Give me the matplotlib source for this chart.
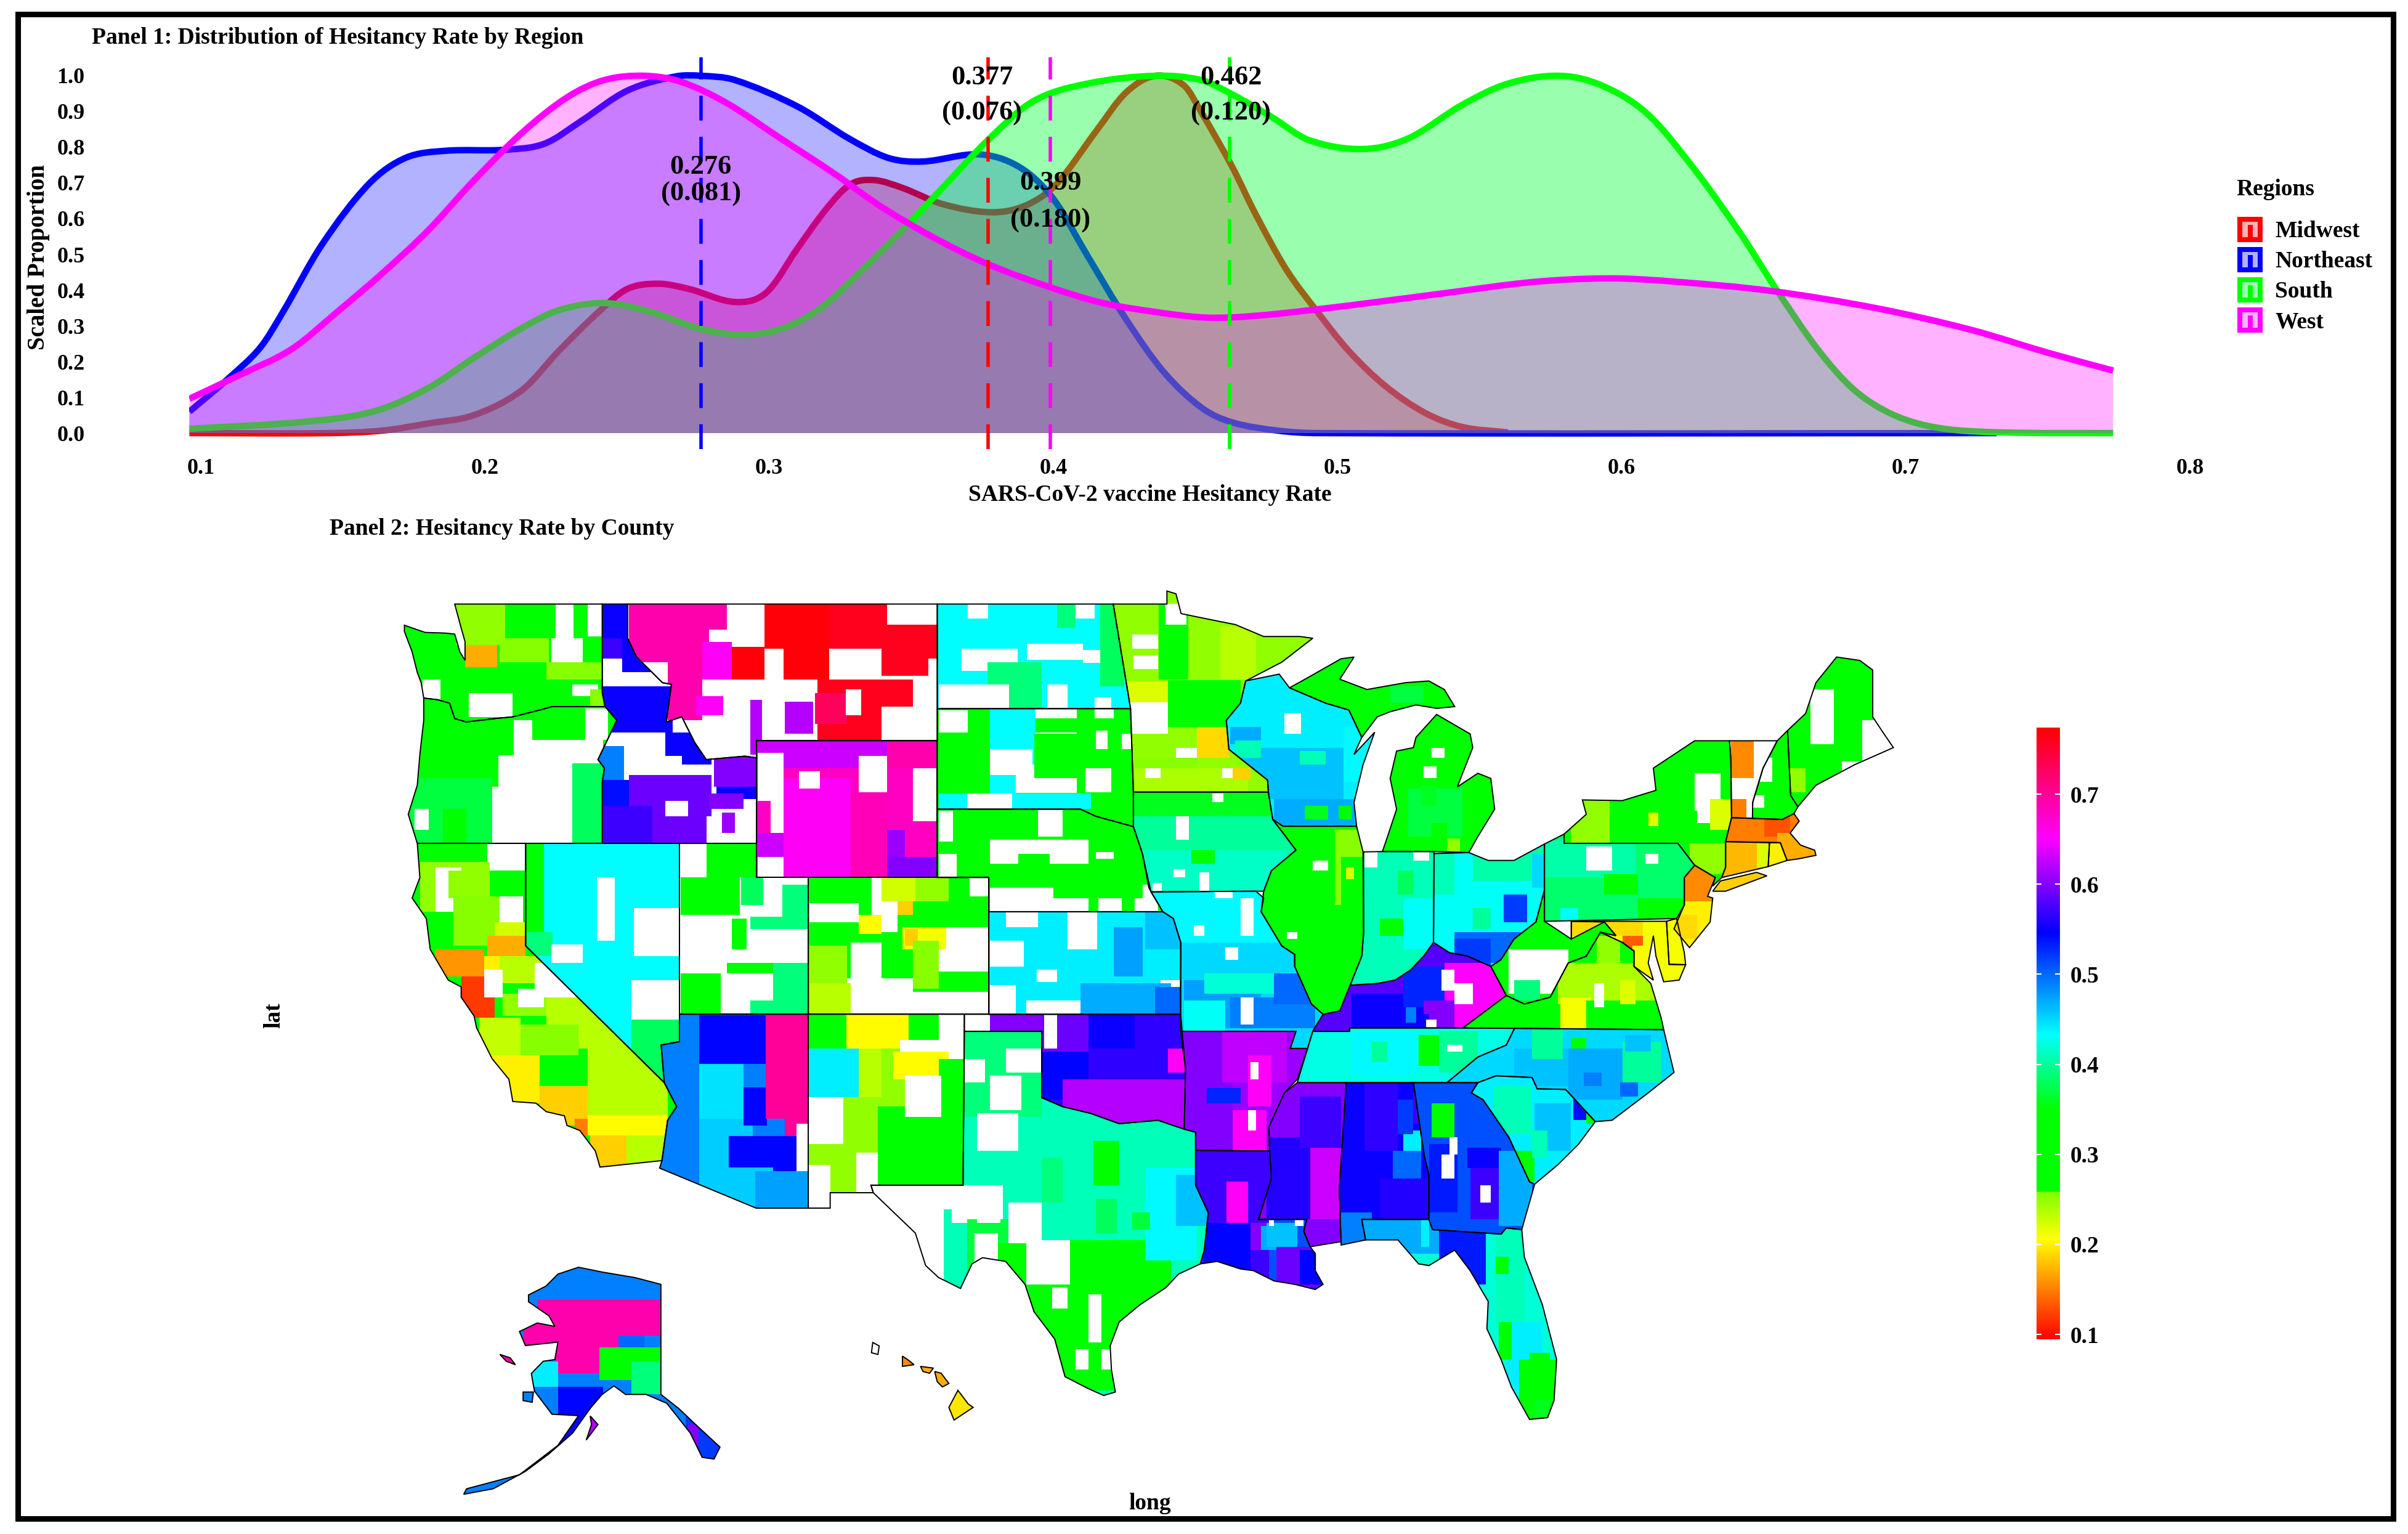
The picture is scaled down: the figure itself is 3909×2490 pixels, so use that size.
import matplotlib
matplotlib.use("Agg")
import matplotlib.pyplot as plt
from matplotlib.colors import LinearSegmentedColormap, Normalize, to_rgba
from matplotlib.cm import ScalarMappable
from matplotlib.patches import Polygon, Rectangle, PathPatch
from matplotlib.path import Path
from matplotlib.lines import Line2D
from matplotlib.legend_handler import HandlerBase

W, H = 3909, 2490
plt.rcParams['font.family'] = ['Liberation Serif', 'DejaVu Serif']
plt.rcParams['font.weight'] = 'bold'
plt.rcParams['lines.scale_dashes'] = False

# ---------- Panel 1 data ----------
REGIONS = ['Midwest', 'Northeast', 'South', 'West']
COLORS = ['#FF0000', '#0000FF', '#00FF00', '#FF00FF']
FILLS = [to_rgba('#FF0000', .3), to_rgba('#0000FF', .3), to_rgba('#00FF37', .4), to_rgba('#FF00FF', .3)]
MEANS = [0.377, 0.276, 0.462, 0.399]
SDS = [0.076, 0.081, 0.120, 0.180]
LABEL_X = [0.375, 0.276, 0.4625, 0.399]
MEAN_Y = [0.995, 0.745, 0.995, 0.70]
SD_Y = [0.895, 0.67, 0.895, 0.595]

MW_X = [.096,.145,.164,.18,.196,.213,.226,.24,.25,.261,.272,.288,.299,.31,.32,.3286,.337,.347,.361,.378,.39,.401,.415,.4256,.436,.446,.4524,.463,.471,.482,.493,.504,.517,.531,.544,.56]
MW_Y = [0,0,.007,.027,.05,.12,.23,.339,.403,.418,.403,.367,.393,.517,.626,.696,.708,.686,.641,.618,.636,.696,.844,.953,1.0,.973,.894,.745,.616,.458,.339,.23,.131,.056,.017,.002]
NE_X = [.096,.11,.121,.129,.1426,.159,.172,.186,.207,.221,.234,.25,.267,.276,.288,.31,.328,.342,.354,.374,.388,.40,.412,.4256,.439,.4524,.463,.479,.493,.732]
NE_Y = [.06,.155,.24,.34,.527,.696,.77,.79,.793,.81,.874,.958,.998,1.0,.988,.914,.825,.77,.76,.78,.745,.656,.497,.319,.17,.07,.03,.007,0,0]
SO_X = [.096,.137,.161,.18,.196,.213,.226,.242,.2585,.275,.291,.305,.318,.331,.348,.361,.377,.393,.412,.436,.452,.463,.477,.49,.509,.525,.544,.56,.578,.593,.609,.625,.642,.654,.669,.682,.696,.712,.734,.773]
SO_Y = [.012,.032,.061,.126,.21,.294,.344,.364,.339,.294,.275,.294,.349,.443,.577,.686,.82,.929,.978,1.0,.988,.948,.884,.82,.795,.825,.919,.978,1.0,.973,.894,.745,.557,.408,.235,.12,.05,.014,.002,0]
WE_X = [.096,.113,.132,.148,.164,.18,.196,.213,.229,.242,.256,.269,.285,.304,.323,.339,.358,.377,.399,.4175,.436,.452,.463,.479,.506,.539,.569,.596,.62,.6525,.69,.723,.75,.773]
WE_Y = [.096,.16,.235,.339,.448,.567,.706,.84,.94,.988,1.0,.983,.924,.825,.726,.636,.547,.473,.408,.364,.339,.324,.324,.334,.359,.393,.423,.433,.423,.398,.349,.289,.225,.175]
CURVES_X = [MW_X, NE_X, SO_X, WE_X]
CURVES_Y = [MW_Y, NE_Y, SO_Y, WE_Y]
X_TICKS = [.1, .2, .3, .4, .5, .6, .7, .8]
Y_TICKS = [0, .1, .2, .3, .4, .5, .6, .7, .8, .9, 1.0]

# ---------- Panel 2 data: outlines in long/lat ----------
OUTLINES = {
'WA': [(-122.75,49),(-117.03,49),(-117.03,46.4),(-116.92,46),(-118.98,46),(-119.3,45.93),(-120.5,45.7),(-121.2,45.65),(-122.3,45.55),(-122.75,45.65),(-122.95,46.1),(-123.4,46.2),(-123.95,46.25),(-124.05,46.7),(-124.2,47),(-124.4,47.6),(-124.7,48.2),(-124.7,48.38),(-123.9,48.17),(-123.1,48.15),(-122.75,48.12),(-122.55,47.6),(-122.35,47.35),(-122.35,47.9),(-122.5,48.3)],
'OR': [(-124.2,42),(-117.03,42),(-117.03,43.8),(-116.95,44.2),(-117.2,44.45),(-116.85,45),(-116.47,45.6),(-116.92,46),(-118.98,46),(-119.3,45.93),(-120.5,45.7),(-121.2,45.65),(-122.3,45.55),(-122.75,45.65),(-122.95,46.1),(-123.4,46.2),(-123.95,46.25),(-123.95,45.6),(-124.1,44.6),(-124.2,43.7),(-124.55,42.85)],
'CA': [(-124.2,42),(-120,42),(-120,39),(-114.63,35),(-114.15,34.3),(-114.5,33.9),(-114.72,32.72),(-117.12,32.53),(-117.3,33),(-117.9,33.6),(-118.4,33.75),(-118.5,34.03),(-119.2,34.15),(-119.6,34.4),(-120.5,34.45),(-120.65,35.1),(-121.3,35.7),(-121.9,36.6),(-122,36.95),(-122.5,37.5),(-122.5,37.8),(-123,38),(-123.7,38.9),(-123.85,39.8),(-124.4,40.4),(-124.1,41)],
'NV': [(-120,42),(-114.04,42),(-114.04,36.2),(-114.75,36.1),(-114.63,35),(-120,39)],
'ID': [(-117.03,49),(-116.05,49),(-116.05,48),(-115.7,47.45),(-114.7,46.7),(-114.35,46.65),(-114.55,45.55),(-113.95,45.7),(-113.45,44.95),(-113,44.45),(-111.5,44.55),(-111.05,44.5),(-111.05,42),(-117.03,42),(-117.03,43.8),(-116.95,44.2),(-117.2,44.45),(-116.85,45),(-116.47,45.6),(-116.92,46),(-117.03,46.4)],
'MT': [(-116.05,49),(-104.05,49),(-104.05,45),(-111.05,45),(-111.05,44.5),(-111.5,44.55),(-113,44.45),(-113.45,44.95),(-113.95,45.7),(-114.55,45.55),(-114.35,46.65),(-114.7,46.7),(-115.7,47.45),(-116.05,48)],
'WY': [(-111.05,45),(-104.05,45),(-104.05,41),(-111.05,41)],
'UT': [(-114.04,42),(-111.05,42),(-111.05,41),(-109.05,41),(-109.05,37),(-114.04,37)],
'CO': [(-109.05,41),(-102.05,41),(-102.05,37),(-109.05,37)],
'AZ': [(-114.04,37),(-109.05,37),(-109.05,31.33),(-111.07,31.33),(-114.81,32.5),(-114.72,32.72),(-114.5,33.9),(-114.15,34.3),(-114.63,35),(-114.75,36.1),(-114.04,36.2)],
'NM': [(-109.05,37),(-103,37),(-103.05,32),(-106.62,32),(-106.53,31.78),(-108.2,31.78),(-108.2,31.33),(-109.05,31.33)],
'ND': [(-104.05,49),(-97.23,49),(-96.56,45.94),(-104.05,45.94)],
'SD': [(-104.05,45.94),(-96.56,45.94),(-96.45,43.5),(-96.45,42.49),(-97.9,42.79),(-98.5,43),(-104.05,43)],
'NE': [(-104.05,43),(-98.5,43),(-97.9,42.79),(-96.45,42.49),(-96.1,41.7),(-95.85,40.7),(-95.31,40),(-102.05,40),(-102.05,41),(-104.05,41)],
'KS': [(-102.05,40),(-95.31,40),(-94.9,39.8),(-94.61,39.1),(-94.62,37),(-102.05,37)],
'OK': [(-103,37),(-94.62,37),(-94.43,35.4),(-94.48,33.64),(-95.5,33.9),(-97,33.8),(-98.1,34.1),(-99.2,34.3),(-100,34.56),(-100,36.5),(-103,36.5)],
'TX': [(-103,36.5),(-100,36.5),(-100,34.56),(-99.2,34.3),(-98.1,34.1),(-97,33.8),(-95.5,33.9),(-94.48,33.64),(-94.04,33.55),(-94.04,32),(-93.55,31.2),(-93.7,30.1),(-93.85,29.7),(-94.7,29.4),(-95.2,29),(-96.2,28.5),(-97,28),(-97.35,27.3),(-97.3,26.6),(-97.15,25.95),(-97.6,25.85),(-98.2,26.05),(-99.1,26.4),(-99.5,27.5),(-100.3,28.3),(-100.65,29.1),(-101.4,29.77),(-102.3,29.88),(-102.7,29.7),(-103.15,28.98),(-104,29.3),(-104.5,29.65),(-104.9,30.6),(-106.53,31.78),(-106.62,32),(-103.05,32)],
'MN': [(-97.23,49),(-95.15,49),(-95.15,49.38),(-94.8,49.3),(-94.6,48.72),(-93.5,48.55),(-92.5,48.4),(-91.4,48.05),(-90,48.05),(-89.5,48),(-90.7,47.3),(-92.1,46.75),(-92.3,46.1),(-92.85,45.6),(-92.75,44.75),(-91.25,43.85),(-91.22,43.5),(-96.45,43.5),(-96.56,45.94)],
'IA': [(-96.45,43.5),(-91.22,43.5),(-91.05,42.7),(-90.15,41.8),(-91.1,41.2),(-91.4,40.6),(-91.7,40.6),(-95.77,40.58),(-96.1,41.7),(-96.45,42.49)],
'MO': [(-95.77,40.58),(-91.7,40.6),(-91.4,40.4),(-91.5,40),(-90.7,39),(-90.2,38.75),(-90.2,38.4),(-89.55,37.3),(-89.1,37),(-89.5,36.5),(-89.7,36),(-90.37,36),(-90.15,36.5),(-94.62,36.5),(-94.62,39.1),(-94.9,39.8),(-95.31,40)],
'AR': [(-94.62,36.5),(-90.15,36.5),(-90.37,36),(-89.7,36),(-90.1,35.1),(-90.6,34.7),(-91.2,33.7),(-91.17,33),(-94.04,33.02),(-94.04,33.55),(-94.48,33.64),(-94.43,35.4)],
'LA': [(-94.04,33.02),(-91.17,33),(-91.1,32.2),(-91.6,31),(-89.73,31),(-89.85,30.65),(-89.6,30.2),(-89.4,30),(-89.4,29.5),(-89.1,29.1),(-89.4,28.95),(-90.2,29.1),(-91,29.2),(-91.8,29.5),(-92.3,29.55),(-93.2,29.77),(-93.85,29.7),(-93.7,30.1),(-93.55,31.2),(-94.04,32)],
'WI': [(-92.3,46.1),(-92.1,46.75),(-90.8,46.95),(-90.4,46.55),(-89,46.1),(-88.1,45.9),(-87.6,45.1),(-87.9,44.6),(-87.1,45.25),(-87.55,44.3),(-87.9,43.2),(-87.8,42.5),(-90.65,42.5),(-91.05,42.7),(-91.22,43.5),(-91.25,43.85),(-92.75,44.75),(-92.85,45.6)],
'IL': [(-90.65,42.5),(-87.8,42.5),(-87.55,41.75),(-87.53,39.35),(-87.6,38.7),(-88.05,37.85),(-88.45,37.1),(-89.1,37),(-89.55,37.3),(-90.2,38.4),(-90.2,38.75),(-90.7,39),(-91.5,40),(-91.4,40.6),(-91.1,41.2),(-90.15,41.8),(-91.05,42.7)],
'IN': [(-87.53,41.75),(-86.8,41.76),(-84.8,41.76),(-84.82,39.1),(-85.2,38.7),(-85.7,38.3),(-86.3,38),(-87,37.9),(-88.05,37.85),(-87.6,38.7),(-87.53,39.35)],
'MI': [(-86.8,41.76),(-84.8,41.76),(-83.45,41.73),(-83.1,42.2),(-82.45,43),(-82.6,43.9),(-83.1,44.05),(-83.9,43.65),(-83.3,44.8),(-83.4,45.2),(-84.7,45.77),(-85.5,45.1),(-85.6,44.8),(-86.25,44.7),(-86.5,43.9),(-86.25,43),(-86.6,42.2)],
'MIU': [(-90.4,46.55),(-89.8,46.8),(-88.4,47.4),(-87.9,47.45),(-88.45,46.8),(-87.4,46.5),(-85.9,46.7),(-85,46.75),(-84.4,46.5),(-84,46),(-84.7,45.95),(-85.5,46.05),(-86.5,45.85),(-87,45.7),(-87.6,45.1),(-88.1,45.9),(-89,46.1)],
'OH': [(-84.8,41.7),(-83.45,41.73),(-82.7,41.5),(-81.7,41.5),(-80.52,41.98),(-80.52,40.64),(-80.85,39.7),(-81.7,39.2),(-82.2,38.6),(-82.6,38.4),(-83.5,38.7),(-84.2,38.8),(-84.82,39.1)],
'KY': [(-89.5,36.5),(-89.1,37),(-88.45,37.1),(-88.05,37.85),(-87,37.9),(-86.3,38),(-85.7,38.3),(-85.2,38.7),(-84.82,39.1),(-84.2,38.8),(-83.5,38.7),(-82.6,38.4),(-82,37.55),(-83.68,36.6),(-88.07,36.6),(-88.07,36.5)],
'TN': [(-90.1,35),(-89.7,36),(-89.5,36.5),(-88.07,36.5),(-88.07,36.6),(-83.68,36.6),(-81.68,36.59),(-82,36.1),(-83.1,35.75),(-84.3,35)],
'MS': [(-90.1,35),(-88.2,35),(-88.47,31.9),(-88.4,30.35),(-89.6,30.2),(-89.85,30.65),(-89.73,31),(-91.6,31),(-91.1,32.2),(-91.17,33),(-91.2,33.7),(-90.6,34.7)],
'AL': [(-88.2,35),(-85.6,35),(-85.18,32.87),(-85,32.3),(-85,31),(-87.6,31),(-87.45,30.4),(-88.4,30.25),(-88.47,31.9)],
'GA': [(-85.6,35),(-83.1,35),(-83.35,34.7),(-82.9,34.5),(-81.9,33.4),(-81.1,32.1),(-80.9,32.03),(-81.4,30.7),(-82,30.75),(-82.2,30.57),(-84.86,30.7),(-85,31),(-85,32.3),(-85.18,32.87)],
'FL': [(-87.6,31),(-85,31),(-84.86,30.7),(-82.2,30.57),(-82,30.75),(-81.4,30.7),(-81.3,29.9),(-80.6,28.5),(-80.05,26.9),(-80.15,25.7),(-80.4,25.2),(-81.1,25.15),(-81.8,26.1),(-82.2,26.9),(-82.75,27.8),(-82.7,28.6),(-83.4,29.5),(-84,30.1),(-85,29.65),(-85.4,29.7),(-86.2,30.4),(-87.45,30.4)],
'SC': [(-83.35,34.7),(-83.1,35),(-82.4,35.2),(-81,35.15),(-80.8,34.82),(-79.7,34.8),(-78.55,33.86),(-79.2,33.2),(-80,32.6),(-80.9,32.03),(-81.1,32.1),(-81.9,33.4),(-82.9,34.5)],
'NC': [(-84.3,35),(-83.1,35.75),(-82,36.1),(-81.68,36.59),(-75.9,36.55),(-75.5,35.3),(-76.5,34.7),(-77.9,33.9),(-78.55,33.86),(-79.7,34.8),(-80.8,34.82),(-81,35.15),(-82.4,35.2),(-83.1,35)],
'VA': [(-83.68,36.6),(-75.9,36.55),(-76,36.9),(-76.4,37.9),(-77.05,38.4),(-77.05,38.85),(-77.5,39.1),(-78.35,39.4),(-78.9,38.7),(-79.6,38.5),(-80.3,37.5),(-81.3,37.3),(-82,37.55)],
'WV': [(-82.6,38.4),(-82,37.55),(-81.3,37.3),(-80.3,37.5),(-79.6,38.5),(-78.9,38.7),(-78.35,39.4),(-77.75,39.3),(-78.2,39.7),(-79.48,39.72),(-79.48,39.2),(-80.52,39.72),(-80.52,40.64),(-80.85,39.7),(-81.7,39.2),(-82.2,38.6)],
'PA': [(-80.52,41.98),(-79.76,42.27),(-79.76,42),(-75.35,42),(-74.7,41.36),(-75.1,41),(-75.1,40.2),(-75.4,39.8),(-80.52,39.72)],
'MD': [(-79.48,39.72),(-75.79,39.72),(-75.69,38.46),(-75.05,38.45),(-75.3,38),(-75.9,37.95),(-76.2,38.7),(-76.3,39.3),(-76.5,38.5),(-76.3,38),(-77.05,38.4),(-77.05,38.85),(-77.5,39.1),(-78.35,39.4),(-77.75,39.3),(-78.2,39.7),(-79.48,39.2)],
'DE': [(-75.79,39.72),(-75.4,39.8),(-75.1,38.8),(-75.05,38.45),(-75.69,38.46)],
'NJ': [(-74.7,41.36),(-73.9,41),(-74.2,40.45),(-74,40.4),(-74.1,39.7),(-74.9,38.95),(-75.5,39.5),(-75.1,40.2),(-75.1,41)],
'NY': [(-79.76,42),(-75.35,42),(-74.7,41.36),(-73.9,41),(-74,40.75),(-73.65,41),(-73.5,41.3),(-73.5,42.05),(-73.27,42.75),(-73.3,44.5),(-73.35,45),(-74.7,45),(-76.3,44.2),(-76.2,43.55),(-77.5,43.25),(-79.05,43.27),(-78.9,42.85),(-79.76,42.27)],
'LI': [(-74,40.6),(-73.7,40.9),(-72.3,41.15),(-71.9,41.05),(-73.5,40.6)],
'VT': [(-73.35,45),(-71.5,45),(-72.05,44.2),(-72.45,43.2),(-72.46,42.73),(-73.27,42.75),(-73.3,44.5)],
'NH': [(-71.5,45),(-71.1,45.3),(-70.98,43.4),(-70.7,43.07),(-70.85,42.87),(-71.3,42.7),(-72.46,42.73),(-72.45,43.2),(-72.05,44.2)],
'ME': [(-71.1,45.3),(-70.4,45.8),(-70,46.7),(-69.2,47.45),(-68.3,47.35),(-67.8,47.07),(-67.8,45.7),(-67.45,45.3),(-67,44.8),(-68.5,44.3),(-70,43.7),(-70.7,43.07),(-70.98,43.4)],
'MA': [(-73.5,42.05),(-73.27,42.75),(-72.46,42.73),(-71.3,42.7),(-70.85,42.87),(-70.65,42.65),(-71,42.3),(-70.6,41.95),(-70.05,41.8),(-70,41.65),(-70.65,41.55),(-71.12,41.5),(-71.38,42.02)],
'CT': [(-73.5,42.05),(-71.8,42.02),(-71.85,41.32),(-73.65,41),(-73.5,41.3)],
'RI': [(-71.8,42.02),(-71.38,42.02),(-71.12,41.5),(-71.85,41.32)],
'AK': [(-117.95,29.6),(-117.04,29.46),(-115.78,29.3),(-114.76,29.1),(-114.76,25.88),(-114.07,25.47),(-113.5,25.06),(-112.47,24.34),(-112.7,23.99),(-113.16,24.04),(-113.62,24.75),(-114.53,25.62),(-115.33,25.88),(-116.13,25.88),(-116.58,26.13),(-117.04,25.88),(-117.5,25.47),(-118.18,24.75),(-119.1,24.14),(-120.01,23.63),(-121.26,23.12),(-122.4,22.96),(-122.29,23.12),(-120.24,23.53),(-118.75,24.39),(-117.95,25.26),(-118.98,25.3),(-119.66,25.98),(-119.78,26.49),(-119.32,26.85),(-118.87,26.9),(-118.75,27.41),(-120.01,27.31),(-120.24,27.72),(-119.55,27.97),(-118.87,27.87),(-119.1,28.18),(-119.89,28.59),(-119.89,28.79),(-119.21,29.05),(-118.75,29.4)],
'AK2': [(-121.0,27.05),(-120.6,26.95),(-120.4,26.75),(-120.75,26.85)],
'AK3': [(-117.5,25.25),(-117.2,25.0),(-117.65,24.55),(-117.45,25.0)],
'AK4': [(-120.1,25.95),(-119.7,25.95),(-119.75,25.65),(-120.1,25.7)],
'HI1': [(-103.25,26.0),(-102.85,25.6),(-102.66,25.5),(-103.4,25.13),(-103.6,25.5)],
'HI2': [(-104.15,26.55),(-103.9,26.5),(-103.6,26.2),(-103.85,26.1),(-104.05,26.25)],
'HI3': [(-104.7,26.7),(-104.2,26.65),(-104.35,26.5),(-104.6,26.55)],
'HI4': [(-105.4,27.0),(-105.2,26.9),(-104.95,26.75),(-105.4,26.7)],
'HI5': [(-106.55,27.4),(-106.3,27.3),(-106.35,27.05),(-106.6,27.1)],
}

BASE = dict(WA=.30,OR=.30,CA=.30,NV=.433,ID=None,MT=None,WY=.68,UT=None,CO=.30,AZ=.49,NM=.25,ND=.433,SD=.30,NE=.30,KS=.44,OK=.565,TX=.41,
            MN=.25,IA=.40,MO=.45,AR=.61,LA=.57,WI=.44,IL=.30,IN=.41,MI=.31,MIU=.32,OH=.43,KY=.58,TN=.425,MS=.60,AL=.55,GA=.51,FL=.42,SC=.44,NC=.45,
            VA=.30,WV=.33,PA=.385,MD=.21,DE=.21,NJ=.2,NY=.30,LI=.185,VT=None,NH=.30,ME=.30,MA=.15,CT=.175,RI=.2,AK=.49,AK2=.69,AK3=.62,AK4=.49,
            HI1=.195,HI2=.17,HI3=.17,HI4=.155,HI5=None)

# county-level blocks: (west, east, south, north, rate); rate None = county without data
BLOCKS = {
'WA': [(-122.7,-120.8,47.8,49,.25),(-122.35,-121.1,47.15,47.8,.17),(-121,-119.1,47.3,48,.255),(-118.85,-118.15,47.3,49,None),(-119,-117.8,47.3,48,None),(-117.6,-117,48.05,49,None),(-124,-123.3,46.2,46.8,None),(-122.2,-120.5,45.7,46.4,None),(-119.2,-117,46.8,47.3,.255),(-118.2,-117.2,46.3,46.65,None),(-117.5,-117,46,46.5,.255)],
'OR': [(-117.7,-116.8,45.03,45.95,None),(-120.45,-119.75,45.03,45.6,None),(-120.45,-117,44.2,45.03,None),(-121.05,-118.15,43.65,44.57,None),(-121.3,-118.15,42,43.65,None),(-118.2,-117,42,44.35,.38),(-124.6,-121.3,42,43.9,.37),(-123.2,-122.3,42,43,.30),(-124.3,-123.75,42.4,43,None)],
'CA': [(-121.5,-120,41.2,42,None),(-124.1,-121.4,40,41.45,.25),(-123.5,-122.5,40,41.3,None),(-123,-121.4,40.4,41.2,.25),(-121.4,-120,40.45,41.2,.30),(-121.4,-120.1,39.7,40.45,None),(-122.8,-121,39,40.45,.255),(-121.2,-120,39,39.7,.225),(-121.5,-120,38.5,39.3,.17),(-123.5,-121.6,38.1,38.9,.16),(-121.6,-121,38.2,38.7,.2),(-121,-119.2,37.9,38.7,.235),(-122.5,-121.2,36.9,38.1,.12),(-121.6,-120.9,37.5,38.3,None),(-120.9,-119.2,36.95,37.6,.25),(-120.3,-119.3,37.2,37.75,None),(-119.65,-117.8,37.5,38.5,None),(-119.2,-116,36,37.5,.235),(-121.8,-120.2,35.8,36.9,.23),(-120.2,-117.95,34.9,36.7,.255),(-120.2,-117.6,34.9,35.8,.30),(-121.95,-119.45,34.4,35.8,.2),(-117.6,-114.5,34.05,37.5,.235),(-119.45,-117.6,33.75,34.9,.185),(-118.1,-117.4,33.45,33.95,.15),(-117.6,-114.5,33.45,34.05,.205),(-117.5,-116.1,32.5,33.45,.185),(-116.1,-114.5,32.6,33.45,.235)],
'NV': [(-120,-119.3,39,42,.30),(-120,-118.95,38.7,39.4,.39),(-117.25,-116.55,39.15,41,None),(-115.8,-114,38.7,40.1,None),(-119,-117.8,38.5,39.05,None),(-115.9,-114,36.85,38,None),(-115.9,-114,35,36.85,.38)],
'ID': [(-117,-116,48,49,.55),(-117,-116.2,47.4,48,.57),(-116.25,-115,47,48,.55),(-117,-114.3,45.25,46.6,.55),(-114.6,-113.25,44.55,45.25,.55),(-113.95,-112.8,44.3,44.85,.55),(-117.2,-116.2,43.85,44.85,.49),(-117,-116,43.1,43.85,.54),(-116,-112.8,42.8,44,.59),(-117,-115.1,42,43.1,.57),(-115.1,-113,42,42.8,.59),(-112.7,-111,43.65,44.57,.6),(-112.6,-111,43.3,43.65,.55),(-112.9,-111.55,43,43.45,.6),(-112.4,-111.9,42.3,42.9,.61),(-114.6,-113.7,42.8,43.25,None)],
'MT': [(-116,-112.2,48.25,49,.69),(-116,-112.9,47.3,48.25,.69),(-114.5,-113.15,45.6,47.3,.69),(-113.15,-112,46.8,47.9,.655),(-113.4,-112.35,45.75,46.3,.655),(-110.75,-108.25,47.7,49,.77),(-108.25,-106,47.7,49,.76),(-106,-104,47.4,48.4,.76),(-112,-110.75,46.8,47.75,.77),(-110,-108.25,46.8,47.7,.77),(-108.7,-105,46,46.8,.76),(-108.7,-106.2,45,46,.76),(-106.2,-104.4,46.9,47.7,.76),(-107.8,-106.2,46.9,47.7,None),(-111.3,-110.85,44.6,46.2,.62),(-109.95,-108.85,45.2,46.15,.62),(-108.8,-107.55,45.5,46.4,.73),(-107.6,-107,45.75,46.5,None)],
'WY': [(-111,-106,44.2,45,.63),(-106,-104,44.2,45,.69),(-111,-110,43.25,44.65,None),(-110.5,-109,42.3,43.3,None),(-107.1,-106,43.5,44.55,None),(-105,-104,42.65,44.2,None),(-110,-107.4,41,43.9,.655),(-111,-110,41.6,42.3,.63),(-111,-110,41,41.6,None),(-106.3,-104,41,41.6,.6),(-107.4,-106,41,43.5,.685),(-106,-105.3,41.6,42.4,.61),(-109.4,-108.6,43.6,44.1,None)],
'UT': [(-114,-112.15,39.9,41,.34),(-112.15,-111.7,39.9,41.5,.33),(-111.65,-110.8,40.2,41,.38),(-110.05,-109,39.85,40.8,.39),(-111.3,-109.05,39.5,39.85,.39),(-113,-111.05,41,42,.34),(-112,-111.45,38.9,39.8,.33),(-112.2,-110.3,38.2,38.5,.33),(-110.4,-109.05,37.3,38.5,.39),(-111.3,-109.05,37,37.4,.39),(-114,-112.45,37,38.2,.32)],
'CO': [(-106.6,-105.6,39.4,41,None),(-107.4,-106.2,37.9,39.1,None),(-108,-105,37,38.05,None),(-104,-102,38.25,39.55,None),(-107.4,-102,37,37.65,None),(-102.8,-102,40.45,41,None),(-109,-107.1,39.7,40.25,None),(-106.2,-104.9,40.3,41,.225),(-104.9,-103.6,40.3,41,.25),(-105.6,-105,39.9,40.3,.185),(-107.1,-106.2,39.35,39.9,.205),(-105.4,-103.7,38.9,39.55,.21),(-105.3,-104.8,39,39.5,.185),(-105,-104,37.75,39.15,.255),(-109,-107.55,37.85,39,.25),(-109,-107.4,37,37.9,.235)],
'AZ': [(-113.27,-111.56,33.95,35.54,.445),(-113.27,-111.2,32.52,33.95,.455),(-113.27,-110.65,35.54,36.97,.545),(-111.56,-110.65,33.75,34.87,.545),(-112.13,-109.05,32.42,33.44,.545),(-110.7,-109,33.95,37,.70),(-109.96,-109,33.44,33.95,.70),(-109.5,-109,32.42,33.8,None),(-113.27,-110.4,31,32.52,.455),(-111.1,-109,31,32.42,.475)],
'NM': [(-109.05,-107.55,36,37,.3),(-107.56,-105.17,36,37,.205),(-105.17,-104,36.25,37,.3),(-104,-103,35.7,37,None),(-105.5,-103.6,35.85,36.25,None),(-109.05,-107.1,34.57,36,.44),(-105.75,-103.6,35.1,35.9,.205),(-107.1,-106.2,34.57,36,.235),(-104,-103,34.3,35.7,.3),(-106.35,-103,31.9,34.3,.3),(-105.3,-103.9,34,35.2,None),(-109.05,-107.7,33.2,34.57,None),(-107.2,-106.35,31.8,32.95,None),(-109.05,-108.2,31,32.6,None)],
'OK': [(-103,-102,36.5,37,None),(-102,-100,36.5,37,.6),(-100,-98.2,35.9,37,.59),(-100,-98.2,34.5,35.9,.545),(-98.2,-94.4,34.9,37,.565),(-98.2,-96.4,36,37,.55),(-95.1,-94.4,35.3,36,.655),(-99.2,-94.4,33.5,35.1,.62),(-99.9,-99.4,36,37,None)],
'TX': [(-103,-100,34,36.5,.39),(-101.4,-100,35.3,36,None),(-103,-102.2,35,35.7,None),(-102,-100.8,34.2,35.2,None),(-102.5,-100.9,33,34.1,None),(-106.6,-103.8,29,32,None),(-103.85,-103.5,31.3,32,None),(-103.5,-101.5,30.9,32,None),(-102.9,-100,28,31,.37),(-102.5,-101.6,30.9,31.5,None),(-101.3,-99,29.1,31.5,None),(-102.6,-101.7,29.7,30.6,None),(-101.7,-100.6,29,30.3,.31),(-100.5,-95,26,30.4,.32),(-99.3,-97.4,26,29.1,.31),(-100.5,-98.9,29.1,31.5,None),(-100,-95.5,30.4,33.7,.41),(-96,-94,29.8,32.5,.435),(-94.8,-93.5,30.8,32.3,.46),(-99.6,-99,28.4,29,None),(-98.7,-98.2,26.6,27.2,None),(-98.2,-97.7,27.4,28.8,None),(-97.7,-97.2,26.6,27.2,None),(-98,-97,32,33.3,.33),(-97.9,-97.1,30.6,31.6,.38),(-96.5,-95.8,30.7,31.2,.37),(-100,-99.2,31.5,32.8,.39)],
'ND': [(-102.87,-102.07,48.57,49,None),(-98.87,-97.96,48.57,49,None),(-103.1,-100.93,47.05,47.7,None),(-100.58,-98.4,47.37,47.83,None),(-98.4,-97.5,47.28,47.65,None),(-102.1,-100,45.95,47.3,.39),(-97.73,-96.8,46.6,49,.38),(-99.4,-98.7,48.3,49,.39),(-104,-101.27,45.95,46.64,None),(-103.8,-103.2,46.65,47.1,.433),(-99.8,-99,45.95,46.64,None),(-97.96,-97.3,45.95,46.27,None)],
'SD': [(-104,-102.87,45.25,45.9,None),(-102,-98.65,43.47,45.25,None),(-102,-100.25,44.75,45.95,.433),(-100.25,-98.65,45.65,45.95,None),(-97.96,-97.2,45.65,45.95,None),(-97.9,-97.45,44.75,45.3,None),(-96.9,-96.45,44.75,45.2,None),(-104,-102.9,43,43.45,.433),(-102,-101,43.45,44,.433),(-102.9,-101.15,43,43.45,None),(-101.15,-98.1,43,43.45,.433),(-100.35,-99.7,44.3,44.85,.433),(-98.3,-97.3,43.5,44.2,None),(-100.3,-98.6,43.9,45.2,.30)],
'NE': [(-104,-103.45,42.05,42.95,None),(-100.15,-99.2,42.2,43,None),(-102,-98.2,41.4,42.1,None),(-100.9,-99.7,41.1,41.7,.30),(-102,-99.55,40,40.7,None),(-100.15,-98.2,40,40.4,None),(-97.8,-96.9,40,40.4,None),(-96.4,-95.5,40,40.8,None),(-104,-103.3,41,41.7,None),(-97.9,-97.2,41.55,41.75,None),(-96.7,-96.1,40.4,41.1,.3)],
'KS': [(-101.4,-100.15,39.55,40,None),(-99,-97.85,38.9,40,None),(-102,-100.7,38.4,39.15,None),(-102,-101,37,37.85,None),(-100.6,-98.3,37,37.4,None),(-100.2,-99.4,37.95,38.3,None),(-96.9,-96.3,38.9,39.3,None),(-95.4,-94.5,37.7,38,None),(-97.2,-96.1,38.1,39.55,.475),(-98.5,-95,37,37.9,.47),(-95.6,-94.5,37,37.8,.50),(-96,-94.6,38.9,40,.46)],
'MN': [(-95.47,-94.33,46.8,49,.3),(-93.07,-91.7,46.8,48.35,.235),(-96.7,-95.1,45.76,46.73,.22),(-96.7,-95.1,45.2,46.13,None),(-95.1,-92.3,45.4,46.77,.3),(-94,-92.75,44.5,45.4,.19),(-96.4,-94,44,44.5,.255),(-96.4,-92,43.5,44.2,.24),(-96.45,-95.5,47.1,47.5,None),(-96.5,-95.5,47.7,48.1,None),(-95.2,-94.4,48.4,49,None),(-94.8,-94,44.5,44.8,None),(-96,-95.4,43.9,44.2,None),(-93,-92.6,43.9,44.2,None),(-92.6,-91.9,43.85,44.2,.185)],
'WI': [(-92.7,-91.5,44.9,45.4,.47),(-92.3,-88.3,43.3,44.8,.46),(-92.5,-91.5,44.5,45,.41),(-90.6,-89.95,45.2,45.8,None),(-90.4,-89.5,42.5,42.8,None),(-91,-87.5,42.5,43.3,.47),(-89.8,-88.9,42.7,43.1,.36),(-88.5,-88,42.7,43.1,.32),(-90,-89,44.3,44.7,.41),(-88.3,-87.2,43.8,45.4,.435)],
'IA': [(-96.5,-90.5,42.8,43.6,.36),(-96.5,-90.5,40.5,41.8,.415),(-94.2,-93.3,41.4,41.8,.33),(-94.8,-94.3,42.1,42.8,None),(-93.9,-93.5,40.6,41.15,None),(-95.7,-95.35,40.55,40.85,None),(-94.9,-94.45,41,41.25,None),(-93.4,-92.95,43.2,43.45,None)],
'MO': [(-95.8,-90.8,39.1,40.6,.435),(-94.5,-91.5,36.6,38,.475),(-93.7,-90.6,37.6,38.2,.42),(-92.7,-89.4,36.6,37.5,.49),(-94.5,-92.9,36.4,37.4,.43),(-91,-89.4,37.3,38.2,.50),(-92.3,-91.8,36.7,37.5,None),(-92.3,-91.8,39.3,40.4,None),(-94.1,-93.7,39.3,39.6,None),(-92.9,-92.4,38.6,38.95,None),(-93.3,-92.6,40.4,40.6,None)],
'IL': [(-88.65,-87.5,40.2,42.4,.255),(-88.4,-87.5,40.2,41.6,.3),(-88.2,-87.9,40.95,41.3,.22),(-89.5,-88.9,41.2,41.5,None),(-90.5,-90.1,39.2,39.4,None)],
'IN': [(-86,-84.8,38.9,40.4,.43),(-86.9,-86,39.3,39.8,.33),(-85.6,-85,41.5,41.8,None),(-87.5,-87,41.3,41.75,None),(-86.2,-85.6,40.5,41.2,.38)],
'OH': [(-84,-81.4,38.5,39.4,.5),(-84,-82.6,38.4,39.2,.52),(-82.1,-81.2,39.7,40.5,.52),(-83.3,-82.6,39.5,40.1,.40),(-83.3,-80.5,40.9,41.9,.405),(-81,-80.5,40.7,41.7,.45),(-84.8,-84,40.5,41.7,.41)],
'PA': [(-80.5,-77,41,42.1,.405),(-78.2,-76.9,40.5,41.1,.33),(-76.9,-74.6,39.7,40.4,.33),(-78.9,-77.9,41.2,41.9,None),(-76.6,-76.1,41.4,41.7,None),(-79.9,-79.2,39.7,40.1,.43)],
'MI': [(-85.8,-83.7,42.2,43.6,.37),(-85.4,-84.8,41.8,42.1,.33),(-84.9,-84.3,41.8,42.6,.31),(-85.3,-84.7,43.1,43.7,.36),(-84.3,-83.8,41.7,42.15,.25),(-84.9,-84.4,44.5,44.8,None),(-85.2,-84.7,43.9,44.25,None)],
'MIU': [(-86.5,-85.2,46.1,46.6,.37)],
'KY': [(-88,-84.4,36.6,37.6,.55),(-86,-84.4,37.2,38.4,.53),(-84.4,-82,36.6,38.5,.65),(-85,-84,36.6,37.4,.6),(-85.2,-84.2,37,37.4,.6),(-84.5,-84,37.7,38.3,None),(-84,-83.3,37.3,37.9,None),(-85.1,-84.7,36.6,36.85,None),(-85.9,-85.5,36.75,37.2,.49)],
'TN': [(-85.4,-84.6,35.5,36.4,.32),(-84.6,-83.1,35.3,36.5,.40),(-88,-85.5,35.2,36.5,.435),(-84.3,-83.7,35.9,36.1,None),(-90,-88,35,36.5,.425),(-87.2,-86.6,35.6,36.2,.40)],
'NC': [(-81.7,-79.6,34.9,36,.46),(-79.5,-78.9,35.7,36.3,.33),(-81,-79.8,35.7,36.55,.40),(-79.6,-77.5,34.5,36,.47),(-77.5,-76,35,36.2,.40),(-77.4,-76.4,35.9,36.4,.46),(-77.6,-76.9,34.6,35,.5),(-79,-78.3,34.9,35.3,.49)],
'SC': [(-82.5,-81,33.5,34.9,.41),(-81.9,-80.9,32.1,33,.33),(-79.4,-78.7,33.9,34.6,.54),(-78.9,-78.5,33.8,34.7,.35),(-80.9,-79.5,33,34.4,.46),(-81,-80.4,32.8,33.6,.41)],
'GA': [(-83.4,-82.2,31,32.7,.57),(-83.5,-82.2,32.5,33.1,.55),(-84.9,-84,33.4,34.4,.35),(-85,-83.9,31.2,33.2,.535),(-84.5,-84,32.2,32.9,None),(-83,-82.6,31.5,32,None),(-84.2,-83.9,32.9,33.4,None),(-82.3,-81,30.8,33,.47)],
'AL': [(-87.5,-86.2,33,35,.565),(-86,-85.3,32.9,33.6,.44),(-86.9,-85,31,32.2,.56),(-85.6,-85,33.8,34.7,.57),(-86.2,-85.6,33.5,34.5,.52),(-86.4,-85.3,32.2,33,.5),(-88.4,-87.2,30.2,31.2,.49)],
'MS': [(-91.3,-89.5,31,33.4,.56),(-90,-88.4,33.1,34.6,.57),(-89.6,-88.3,31,33.1,.63),(-90,-88.4,30.2,31,.6)],
'AR': [(-94.5,-92.6,33,36.5,.6),(-93,-90.5,35,36.5,.625),(-92,-91.1,34.3,35.8,.655),(-92.6,-91.3,33,34.2,.655),(-93.6,-92.3,34.4,34.85,.53),(-91.9,-91.6,35.1,35.6,None),(-92.0,-91.7,33.6,34.2,None)],
'LA': [(-92.84,-92,30.9,32.1,.655),(-91.2,-89.4,29,31,.51),(-92,-91,30.1,30.9,.6),(-91.5,-90.5,30.1,30.8,.47),(-93.7,-91.9,29.5,30.9,.545),(-91.3,-90.1,30.2,30.9,.46),(-90.9,-89,29,30.2,.59),(-90,-89,29.1,30.1,.545),(-90.2,-89.85,30.8,31,None),(-91.2,-91,30.8,31.4,None)],
'FL': [(-87.6,-84.5,30,31,.47),(-84.6,-82.8,29.1,30.7,.535),(-85.3,-85,30.2,31,.44),(-82.4,-81.3,28,30.7,.41),(-82.4,-81.9,29.4,29.9,.33),(-82,-80.6,26,28,.44),(-81.5,-80,25,26.9,.33),(-81.1,-80.3,25.9,27.1,.33),(-82.3,-81.8,26.9,28,.33),(-80.9,-80.3,25.2,25.7,.36)],
'VA': [(-80,-76,37.3,38.5,.24),(-79.9,-78.7,36.6,37.5,.21),(-78.9,-76,36.6,37.4,.3),(-83,-80,36.6,37.5,.3),(-78.5,-77.6,38.5,39.3,.25),(-77.6,-77,37.3,38,.22),(-78.6,-78.2,37.2,37.9,None)],
'WV': [(-81.9,-79.6,37.6,38.9,None),(-81.7,-80.7,37.4,38,.39)],
'MD': [(-79.5,-76.7,39.3,39.8,.19),(-77.5,-76.7,38.8,39.3,.135),(-77.1,-76.3,38.1,39,.21)],
'NJ': [(-75.2,-73.8,40.3,41.4,.155),(-75.6,-74,38.9,40.3,.2),(-75.6,-74.6,39.2,39.9,.19)],
'NY': [(-79.5,-76.3,42,43.3,.25),(-78,-76.3,42,43.3,.3),(-76.3,-74.8,42,43,.30),(-74.7,-73.7,42.95,44.05,None),(-74.6,-73.9,42.6,43.0,None),(-74.1,-73.3,42.4,43.3,.22),(-74.9,-73.5,41.1,42,.25),(-76.5,-76.1,42.5,42.9,.22)],
'VT': [(-73.3,-72.4,43.9,45,.155),(-73.3,-72.7,42.75,43.3,.15)],
'NH': [(-72.3,-71.7,43.8,44.5,None),(-72.45,-72,43.05,43.4,None)],
'ME': [(-70.2,-69.3,44.9,46.5,None),(-68.2,-67,44.4,45.6,None),(-71.1,-70.4,43.5,44.2,.25),(-69,-68,44,44.4,None)],
'MA': [(-72,-71,42.2,42.75,.13),(-71.5,-70,41.5,42.3,.17)],
'CT': [(-72.3,-71.8,41.3,42.05,.22)],
'AK': [(-119.55,-114.76,27.6,28.64,.69),(-118.87,-116.35,26.5,27.6,.69),(-120.1,-118.8,27.3,28,.69),(-116.4,-115.4,27.25,27.6,.5),(-117.15,-114.76,26.3,27.25,.30),(-115.9,-114.76,25.88,26.85,.39),(-119.78,-118.75,26.1,26.85,.44),(-118.75,-117,25.2,26.1,.545),(-119,-117,24.2,25.2,.55),(-120.1,-118.6,23.6,24.4,.69),(-113.8,-112.4,24,25.4,.52),(-113.7,-113.3,24.4,25,.6)],
}

# ---------- colour scale ----------
V_MIN, V_MAX = 0.0946, 0.774
SCALE_STOPS = [.0946, .206, .2575, .2585, .35, .433, .546, .651, .774]
SCALE_COLORS = ['#FF0000', '#FFFF00', '#80FF00', '#00FF00', '#00FF00', '#00FFFF', '#0000FF', '#FF00FF', '#FF0000']
CB_TICKS = [.1, .2, .3, .4, .5, .6, .7]
cmap = LinearSegmentedColormap.from_list(
    'rate', [((s - V_MIN) / (V_MAX - V_MIN), c) for s, c in zip(SCALE_STOPS, SCALE_COLORS)], N=1024)
norm = Normalize(V_MIN, V_MAX)


def px_axes(fig, left, top, right, bottom, **kw):
    return fig.add_axes([left / W, 1 - bottom / H, (right - left) / W, (bottom - top) / H], **kw)


def curve_vertices(xs, ys):
    """Bezier path passing through the read values."""
    verts, codes = [(xs[0], ys[0])], [Path.MOVETO]
    n = len(xs)
    for i in range(n - 1):
        p0 = (xs[max(i - 1, 0)], ys[max(i - 1, 0)])
        p1 = (xs[i], ys[i])
        p2 = (xs[i + 1], ys[i + 1])
        p3 = (xs[min(i + 2, n - 1)], ys[min(i + 2, n - 1)])
        span = p2[0] - p1[0]
        s1 = (p2[1] - p0[1]) / (p2[0] - p0[0])
        s2 = (p3[1] - p1[1]) / (p3[0] - p1[0])
        c1 = (p1[0] + span / 3, p1[1] + s1 * span / 3)
        c2 = (p2[0] - span / 3, p2[1] - s2 * span / 3)
        verts += [c1, c2, p2]
        codes += [Path.CURVE4] * 3
    return verts, codes


class KeyHandler(HandlerBase):
    def __init__(self, color, fill):
        super().__init__()
        self.color, self.fill = color, fill

    def create_artists(self, legend, orig, xd, yd, width, height, fontsize, trans):
        x0 = -xd + 6 * .72
        box = Rectangle((x0, -yd), width, height, fc=self.fill, ec=self.color, lw=5.8, transform=trans)
        stem = Line2D([x0 + width / 2] * 2, [-yd, -yd + height * .72], color=self.color, lw=5.8,
                      solid_capstyle='butt', transform=trans)
        return [box, stem]


fig = plt.figure(figsize=(W / 100, H / 100), dpi=100, facecolor='white')
fig.add_artist(Rectangle((29 / W, 1 - 2465 / H), (3885 - 29) / W, (2465 - 23) / H, transform=fig.transFigure,
                         fill=False, ec='black', lw=6.5))

# ---------- Panel 1 ----------
a = px_axes(fig, 307, 93, 3601, 729)
a.patch.set_alpha(0)
for k in range(4):
    v, c = curve_vertices(CURVES_X[k], CURVES_Y[k])
    fv = v + [(CURVES_X[k][-1], 0), (CURVES_X[k][0], 0), v[0]]
    fc = c + [Path.LINETO, Path.LINETO, Path.CLOSEPOLY]
    a.add_patch(PathPatch(Path(fv, fc), fc=FILLS[k], ec='none', lw=0, zorder=2 + k))
    a.add_patch(PathPatch(Path(v, c), fc='none', ec=COLORS[k], lw=7.5, capstyle='butt', joinstyle='round', zorder=2 + k))
for k in range(4):
    a.axvline(MEANS[k], color=COLORS[k], lw=4, ls=(0, (29, 19)), zorder=7)
    a.text(LABEL_X[k], MEAN_Y[k], f'{MEANS[k]:.3f}', ha='center', va='center', fontsize=32, zorder=8)
    a.text(LABEL_X[k], SD_Y[k], f'({SDS[k]:.3f})', ha='center', va='center', fontsize=32, zorder=8)
a.set_xlim(0.0959, 0.81)
a.set_ylim(-0.0448, 1.0517)
a.set_xticks(X_TICKS, [f'{t:.1f}' for t in X_TICKS])
a.set_yticks(Y_TICKS, [f'{t:.1f}' for t in Y_TICKS])
a.tick_params(axis='x', length=0, pad=11, labelsize=26)
a.tick_params(axis='y', length=0, pad=122, labelsize=26)
for s in a.spines.values():
    s.set_visible(False)
a.set_xlabel('SARS-CoV-2 vaccine Hesitancy Rate', fontsize=27, fontweight='bold')
a.xaxis.set_label_coords(.4736, -.09)
a.set_ylabel('Scaled Proportion', fontsize=28, fontweight='bold')
a.yaxis.set_label_coords(-.0685, .49)
a.set_title('Panel 1: Distribution of Hesitancy Rate by Region', x=-.048, y=1.021, ha='left', fontsize=27, fontweight='bold')
proxies = [Rectangle((0, 0), 1, 1, label=r) for r in REGIONS]
leg = fig.legend(proxies, REGIONS, title='Regions', loc='upper left', bbox_to_anchor=(3630 / W, 1 - 290 / H), frameon=False,
                 fontsize=27, title_fontproperties={'size': 27, 'weight': 'bold'}, alignment='left',
                 handlelength=.88, handleheight=1.01, handletextpad=.8, labelspacing=.3, borderpad=0, borderaxespad=0,
                 handler_map={p: KeyHandler(COLORS[i], FILLS[i]) for i, p in enumerate(proxies)})
leg._legend_box.sep = 22

# ---------- Panel 2 ----------
m = px_axes(fig, 602, 925, 3283, 2451)
m.patch.set_alpha(0)
m.set_xlim(-126, -62)
m.set_ylim(22.5, 50)
m.set_xticks([])
m.set_yticks([])
for s in m.spines.values():
    s.set_visible(False)
for name, pts in OUTLINES.items():
    base = BASE.get(name)
    face = 'white' if base is None else cmap(norm(base))
    poly = Polygon(pts, closed=True, fc=face, ec='none', aa=False, zorder=1)
    m.add_patch(poly)
    for w, e, s, n, v in BLOCKS.get(name, []):
        r = Rectangle((w, s), e - w, n - s, fc='white' if v is None else cmap(norm(v)), ec='none', aa=False, zorder=1)
        m.add_patch(r)
        r.set_clip_path(poly)
for name, pts in OUTLINES.items():
    m.add_patch(Polygon(pts, closed=True, fc='none', ec='black', lw=1.4, zorder=2))
m.set_xlabel('long', fontsize=27, fontweight='bold')
m.xaxis.set_label_coords((1867 - 602) / 2681, (2451 - 2423) / 1526)
m.set_ylabel('lat', fontsize=27, fontweight='bold')
m.yaxis.set_label_coords((462 - 602) / 2681, (2451 - 1648) / 1526)
m.set_title('Panel 2: Hesitancy Rate by County', x=-.025, y=1.0322, ha='left', fontsize=27, fontweight='bold')

# ---------- colour bar ----------
cax = px_axes(fig, 3306, 1181, 3344, 2174)
cb = fig.colorbar(ScalarMappable(norm=norm, cmap=cmap), cax=cax, ticks=CB_TICKS)
cb.outline.set_visible(False)
cb.ax.set_yticklabels([f'{t:.1f}' for t in CB_TICKS])
cb.ax.tick_params(length=6, width=1.5, color='white', direction='in', left=True, right=True, labelsize=27, pad=12)

fig.savefig('out.png', dpi=100)
